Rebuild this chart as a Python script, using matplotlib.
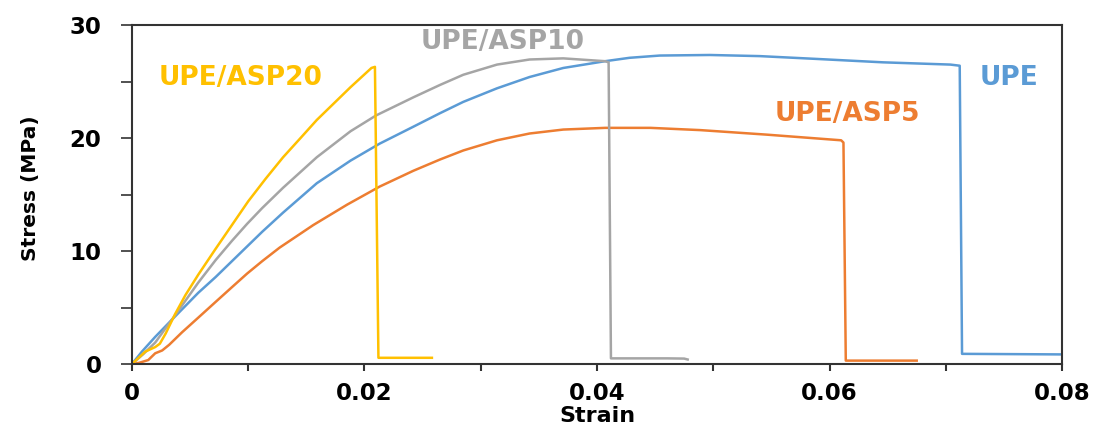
import matplotlib.pyplot as plt
from matplotlib.ticker import MultipleLocator

# stress-strain curves
upe_strain = [0, 0.00086, 0.002, 0.0037, 0.0057, 0.0072, 0.0086, 0.0099, 0.0112, 0.0130,
              0.0159, 0.0188, 0.0213, 0.0242, 0.0265, 0.0285, 0.0314, 0.0342, 0.0371,
              0.0407, 0.0428, 0.0454, 0.0497, 0.0540, 0.0589, 0.0646, 0.0704, 0.0712,
              0.0714, 0.0800]
upe_stress = [0, 1.1, 2.4, 4.2, 6.3, 7.7, 9.1, 10.4, 11.7, 13.4,
              16.0, 18.0, 19.5, 21.0, 22.2, 23.2, 24.4, 25.4, 26.2,
              26.8, 27.1, 27.3, 27.35, 27.25, 27.0, 26.7, 26.5, 26.4,
              0.9, 0.85]

asp5_strain = [0, 0.0006, 0.0014, 0.0020, 0.0026, 0.0032, 0.0043, 0.0057, 0.0072, 0.0086,
               0.0099, 0.0112, 0.0127, 0.0156, 0.0185, 0.0213, 0.0242, 0.0265, 0.0285,
               0.0314, 0.0342, 0.0371, 0.0407, 0.0446, 0.0489, 0.0546, 0.0610, 0.0612,
               0.0614, 0.0675]
asp5_stress = [0, 0.1, 0.35, 0.95, 1.2, 1.7, 2.8, 4.1, 5.5, 6.8,
               8.0, 9.1, 10.3, 12.3, 14.1, 15.7, 17.1, 18.1, 18.9,
               19.8, 20.4, 20.75, 20.9, 20.9, 20.7, 20.3, 19.8, 19.6,
               0.3, 0.3]

asp10_strain = [0, 0.001, 0.002, 0.0037, 0.0057, 0.0072, 0.0086, 0.0099, 0.0112, 0.0130,
                0.0159, 0.0188, 0.0210, 0.0242, 0.0265, 0.0285, 0.0314, 0.0342, 0.0371,
                0.0407, 0.0410, 0.0412, 0.046, 0.0475, 0.0478]
asp10_stress = [0, 0.9, 1.9, 4.3, 7.2, 9.2, 10.9, 12.4, 13.8, 15.6,
                18.3, 20.6, 22.0, 23.6, 24.7, 25.6, 26.5, 26.95, 27.05,
                26.8, 26.7, 0.5, 0.5, 0.48, 0.4]

asp20_strain = [0, 0.00115, 0.0020, 0.0024, 0.0029, 0.0037, 0.0046, 0.0057, 0.0072, 0.0086,
                0.0100, 0.0115, 0.0130, 0.0145, 0.0159, 0.0174, 0.0188, 0.0206, 0.0209,
                0.0212, 0.0258]
asp20_stress = [0, 1.1, 1.5, 1.8, 2.7, 4.4, 6.1, 7.9, 10.2, 12.3,
                14.4, 16.4, 18.3, 20.0, 21.6, 23.1, 24.5, 26.2, 26.3,
                0.55, 0.55]

series = [
    ("UPE", upe_strain, upe_stress, "#5B9BD5", (0.0754, 25.3)),
    ("UPE/ASP5", asp5_strain, asp5_stress, "#ED7D31", (0.0615, 22.1)),
    ("UPE/ASP10", asp10_strain, asp10_stress, "#A5A5A5", (0.0319, 28.5)),
    ("UPE/ASP20", asp20_strain, asp20_stress, "#FFC000", (0.0093, 25.3)),
]

plt.rcParams["font.family"] = ["DejaVu Sans"]

fig = plt.figure(figsize=(10.96, 4.28), dpi=100)
ax = fig.add_axes([0.1204, 0.1495, 0.8486, 0.792])

for name, x, y, color, pos in series:
    ax.plot(x, y, color=color, lw=1.8, solid_joinstyle="round")
    ax.text(pos[0], pos[1], name, color=color, fontsize=19, fontweight="bold",
            ha="center", va="center")

ax.set_xlim(0, 0.08)
ax.set_ylim(0, 30)
ax.set_xticks([0, 0.02, 0.04, 0.06, 0.08])
ax.set_xticklabels(["0", "0.02", "0.04", "0.06", "0.08"])
ax.set_yticks([0, 10, 20, 30])
ax.xaxis.set_minor_locator(MultipleLocator(0.01))
ax.yaxis.set_minor_locator(MultipleLocator(5))

for s in ax.spines.values():
    s.set_color("#333333")
    s.set_linewidth(1.5)

ax.tick_params(axis="x", which="both", direction="out", length=5, width=1.5,
               color="#333333", pad=8, labelsize=16.5)
ax.tick_params(axis="y", which="both", direction="out", length=8, width=1.2,
               color="#333333", pad=14, labelsize=16.5)
for lbl in ax.get_xticklabels() + ax.get_yticklabels():
    lbl.set_fontweight("bold")

ax.set_xlabel("Strain", fontsize=16, fontweight="bold")
ax.xaxis.set_label_coords(0.501, -0.125)
ax.set_ylabel("Stress (MPa)", fontsize=14.5, fontweight="bold")
ax.yaxis.set_label_coords(-0.099, 0.52)

fig.savefig("out.png", dpi=100)
